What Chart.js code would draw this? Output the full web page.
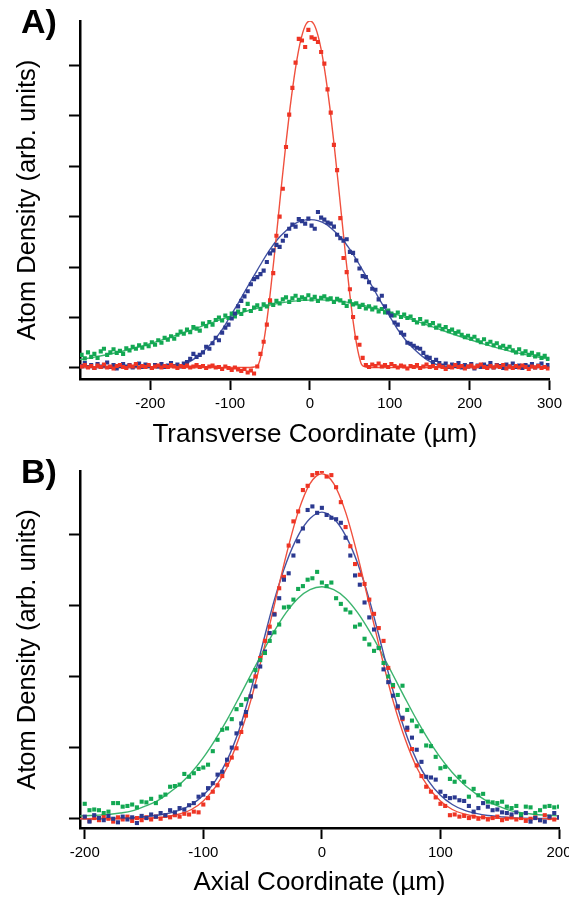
<!DOCTYPE html>
<html>
<head>
<meta charset="utf-8">
<script src="https://cdn.jsdelivr.net/npm/chart.js@4/dist/chart.umd.min.js"></script>
<style>
  html, body { margin: 0; padding: 0; background: #fff; }
  #wrap { position: relative; width: 569px; height: 898px; overflow: hidden; }
  canvas { position: absolute; left: 0; }
  #chartA { top: 0; }
  #chartB { top: 450px; }
</style>
</head>
<body>
<div id="wrap">
  <canvas id="chartA" width="569" height="450"></canvas>
  <canvas id="chartB" width="569" height="448"></canvas>
</div>
<script>
(function () {
  'use strict';

  var FONT = '"Liberation Sans", Arial, Helvetica, sans-serif';

  // ---- Panel A: transverse profiles ----
  var xA = [
    -286, -282, -278, -274, -270, -266, -262, -258, -254, -250,
    -246, -242, -238, -234, -230, -226, -222, -218, -214, -210,
    -206, -202, -198, -194, -190, -186, -182, -178, -174, -170,
    -166, -162, -158, -154, -150, -146, -142, -138, -134, -130,
    -126, -122, -118, -114, -110, -106, -102, -98, -94, -90,
    -86, -82, -78, -74, -70, -66, -62, -58, -54, -50,
    -46, -42, -38, -34, -30, -26, -22, -18, -14, -10,
    -6, -2, 2, 6, 10, 14, 18, 22, 26, 30,
    34, 38, 42, 46, 50, 54, 58, 62, 66, 70,
    74, 78, 82, 86, 90, 94, 98, 102, 106, 110,
    114, 118, 122, 126, 130, 134, 138, 142, 146, 150,
    154, 158, 162, 166, 170, 174, 178, 182, 186, 190,
    194, 198, 202, 206, 210, 214, 218, 222, 226, 230,
    234, 238, 242, 246, 250, 254, 258, 262, 266, 270,
    274, 278, 282, 286, 290, 294, 298
  ];
  var redA = [
    0.03, 0.06, 0.01, 0.04, 0.00, 0.05, 0.02, 0.07, 0.01, 0.03,
    -0.01, 0.04, 0.06, 0.02, 0.00, 0.05, 0.03, 0.08, 0.01, 0.04,
    0.02, 0.06, 0.00, 0.03, 0.05, 0.01, 0.04, 0.02, 0.06, 0.03,
    0.00, 0.04, 0.02, 0.05, 0.01, 0.03, 0.06, 0.02, 0.04, 0.00,
    0.03, 0.05, 0.01, 0.02, -0.02, 0.03, 0.00, -0.04, 0.01, -0.03,
    -0.06, -0.02, -0.09, -0.05, -0.11, 0.03, 0.28, 0.52, 0.86, 1.34,
    1.88, 2.62, 3.00, 3.55, 4.38, 5.02, 5.55, 6.05, 6.52, 6.49,
    6.36, 6.70, 6.55, 6.52, 6.46, 6.26, 6.03, 5.52, 5.06, 4.42,
    3.92, 2.97, 2.18, 1.90, 1.56, 1.01, 0.60, 0.46, 0.20, 0.06,
    0.02, 0.07, 0.04, 0.09, 0.03, 0.06, 0.02, 0.08, 0.04, 0.01,
    0.05, 0.03, -0.01, 0.04, 0.02, 0.06, 0.00, 0.03, 0.07, 0.02,
    0.04, 0.00, 0.05, 0.02, -0.02, 0.03, 0.01, 0.06, 0.02, 0.04,
    -0.01, 0.03, 0.05, 0.01, 0.04, 0.07, 0.02, 0.00, 0.04, 0.01,
    0.05, 0.02, 0.06, -0.01, 0.03, 0.00, 0.04, 0.01, 0.05, 0.02,
    -0.02, 0.03, 0.01, 0.04, 0.00, 0.02, -0.01
  ];
  var blueA = [
    0.04, 0.10, 0.02, 0.06, 0.00, 0.08, 0.03, 0.05, 0.11, 0.02,
    0.06, -0.01, 0.04, 0.08, 0.03, 0.06, 0.01, 0.05, 0.09, 0.02,
    0.07, 0.04, 0.00, 0.06, 0.03, 0.08, 0.02, 0.05, 0.10, 0.04,
    0.07, 0.03, 0.09, 0.12, 0.18, 0.28, 0.22, 0.26, 0.31, 0.42,
    0.38, 0.49, 0.60, 0.55, 0.70, 0.80, 0.86, 0.98, 1.08, 1.22,
    1.33, 1.42, 1.52, 1.66, 1.76, 1.80, 1.86, 1.93, 2.10, 2.27,
    2.33, 2.44, 2.40, 2.52, 2.62, 2.76, 2.84, 2.80, 2.95, 2.91,
    2.86, 2.96, 2.82, 2.76, 3.09, 2.98, 2.94, 2.88, 2.86, 2.80,
    2.64, 2.57, 2.52, 2.55, 2.30, 2.28, 2.13, 1.97, 1.82, 1.80,
    1.70, 1.57, 1.55, 1.36, 1.43, 1.22, 1.10, 1.04, 0.90, 0.86,
    0.70, 0.66, 0.50, 0.48, 0.44, 0.40, 0.38, 0.30, 0.22, 0.20,
    0.12, 0.16, 0.10, 0.05, 0.09, 0.02, 0.07, 0.04, 0.10, 0.01,
    0.06, 0.03, 0.08, -0.01, 0.05, 0.02, 0.07, 0.03, 0.10, 0.01,
    0.06, 0.04, 0.00, 0.07, 0.03, 0.09, 0.02, 0.05, 0.00, 0.06,
    0.03, 0.08, 0.01, 0.05, 0.09, 0.02, 0.06
  ];
  var greenA = [
    0.26, 0.19, 0.31, 0.22, 0.28, 0.20, 0.33, 0.38, 0.26, 0.31,
    0.37, 0.30, 0.34, 0.28, 0.39, 0.35, 0.42, 0.38, 0.45, 0.40,
    0.47, 0.43, 0.51, 0.46, 0.55, 0.50, 0.60, 0.56, 0.63, 0.58,
    0.66, 0.72, 0.68, 0.76, 0.71, 0.81, 0.78, 0.74, 0.88, 0.83,
    0.91, 0.86, 0.95, 1.00, 0.94, 1.04, 0.99, 1.08, 1.02, 1.12,
    1.07, 1.15, 1.27, 1.13, 1.20, 1.24, 1.17, 1.26, 1.22, 1.30,
    1.25, 1.33, 1.28, 1.36, 1.40, 1.31, 1.38, 1.43, 1.35, 1.40,
    1.37, 1.44, 1.36, 1.41, 1.33, 1.39, 1.42, 1.36, 1.38, 1.31,
    1.37, 1.34, 1.29, 1.23, 1.32, 1.26, 1.28, 1.21, 1.25, 1.18,
    1.22, 1.16, 1.20, 1.12, 1.17, 1.10, 1.14, 1.08, 1.04, 1.10,
    1.01, 1.06, 0.99, 1.02, 0.95, 0.90, 0.97, 0.88, 0.92, 0.85,
    0.89, 0.80, 0.84, 0.77, 0.81, 0.73, 0.76, 0.69, 0.72, 0.66,
    0.61, 0.64, 0.58, 0.62, 0.55, 0.51, 0.57, 0.48, 0.52, 0.45,
    0.49, 0.41, 0.44, 0.38, 0.42, 0.35, 0.31, 0.37, 0.29, 0.33,
    0.26, 0.30, 0.23, 0.27, 0.20, 0.24, 0.18
  ];

  // fitted curves, panel A
  var fitRedXA = [-288, -150, -100, -85, -75, -70, -65, -60, -55, -50, -45, -40, -35, -30, -25, -20, -15, -10, -5, 0,
    5, 10, 15, 20, 25, 30, 35, 40, 45, 50, 55, 60, 65, 70, 75, 85, 100, 150, 300];
  var fitRedA = [0.01, 0.01, 0.01, 0.01, 0.01, 0.02, 0.06, 0.34, 0.82, 1.45, 2.17, 2.94, 3.72, 4.46, 5.15, 5.74, 6.23, 6.59, 6.81, 6.88,
    6.81, 6.59, 6.23, 5.74, 5.15, 4.46, 3.72, 2.94, 2.17, 1.45, 0.82, 0.34, 0.06, 0.02, 0.01, 0.01, 0.01, 0.01, 0.01];
  var fitBlueXA = [-288, -220, -190, -180, -170, -160, -150, -140, -130, -120, -110, -100, -90, -80, -70, -60, -50, -40, -30, -20, -10, 0,
    10, 20, 30, 40, 50, 60, 70, 80, 90, 100, 110, 120, 130, 140, 150, 160, 170, 180, 190, 220, 300];
  var fitBlueA = [0.01, 0.01, 0.01, 0.015, 0.03, 0.06, 0.13, 0.24, 0.38, 0.55, 0.76, 1.02, 1.28, 1.56, 1.83, 2.10, 2.35, 2.56, 2.72, 2.85, 2.92, 2.94,
    2.92, 2.85, 2.72, 2.56, 2.35, 2.10, 1.83, 1.56, 1.28, 1.02, 0.76, 0.55, 0.38, 0.24, 0.13, 0.06, 0.03, 0.015, 0.01, 0.01, 0.01];
  var fitGreenXA = [-288, -270, -250, -230, -210, -190, -170, -150, -130, -110, -90, -70, -50, -30, -10,
    10, 30, 50, 70, 90, 110, 130, 150, 170, 190, 210, 230, 250, 270, 290, 300];
  var fitGreenA = [0.168, 0.215, 0.277, 0.351, 0.436, 0.531, 0.636, 0.746, 0.858, 0.970, 1.074, 1.168, 1.246, 1.304, 1.340,
    1.350, 1.335, 1.295, 1.232, 1.150, 1.054, 0.947, 0.836, 0.723, 0.614, 0.512, 0.418, 0.335, 0.264, 0.204, 0.178];

  var xTicksA = [-200, -100, 0, 100, 200, 300];
  var yTicksA = [0, 1, 2, 3, 4, 5, 6];

  // ---- Panel B: axial profiles ----
  var xB = [
    -200, -196, -192, -188, -184, -180, -176, -172, -168, -164,
    -160, -156, -152, -148, -144, -140, -136, -132, -128, -124,
    -120, -116, -112, -108, -104, -100, -96, -92, -88, -84,
    -80, -76, -72, -68, -64, -60, -56, -52, -48, -44,
    -40, -36, -32, -28, -24, -20, -16, -12, -8, -4,
    0, 4, 8, 12, 16, 20, 24, 28, 32, 36,
    40, 44, 48, 52, 56, 60, 64, 68, 72, 76,
    80, 84, 88, 92, 96, 100, 104, 108, 112, 116,
    120, 124, 128, 132, 136, 140, 144, 148, 152, 156,
    160, 164, 168, 172, 176, 180, 184, 188, 192, 196,
    200
  ];
  var redB = [
    0.02, -0.03, 0.01, -0.02, 0.03, 0.00, -0.04, 0.02, -0.01, 0.03,
    -0.03, 0.01, -0.02, 0.02, -0.01, 0.03, 0.00, 0.04, 0.02, 0.05,
    0.03, 0.07, 0.06, 0.10, 0.09, 0.20, 0.29, 0.38, 0.47, 0.60,
    0.76, 0.86, 0.99, 1.22, 1.45, 1.72, 2.00, 2.26, 2.50, 2.70,
    2.88, 3.24, 3.40, 3.84, 4.18, 4.32, 4.62, 4.68, 4.83, 4.86,
    4.89, 4.81, 4.83, 4.66, 4.45, 4.10, 3.83, 3.58, 3.43, 3.30,
    3.08, 2.88, 2.68, 2.50, 2.12, 1.86, 1.56, 1.40, 1.25, 0.98,
    0.75, 0.60, 0.45, 0.38, 0.30, 0.21, 0.18, 0.05, 0.06, 0.03,
    0.04, 0.01, 0.03, 0.00, 0.02, -0.01, 0.01, 0.03, -0.02, 0.00,
    0.02, -0.01, 0.01, -0.03, 0.00, 0.02, -0.02, 0.05, 0.01, -0.01,
    0.02
  ];
  var blueB = [
    0.03, -0.04, 0.05, 0.01, -0.02, 0.04, 0.00, -0.05, 0.03, -0.01,
    0.02, -0.06, 0.04, 0.01, 0.06, 0.03, 0.08, 0.05, 0.12, 0.09,
    0.15, 0.13, 0.19, 0.22, 0.31, 0.34, 0.43, 0.50, 0.62, 0.66,
    0.83, 1.00, 1.20, 1.34, 1.50, 1.72, 1.86, 2.14, 2.35, 2.61,
    2.87, 3.10, 3.36, 3.45, 3.70, 3.90, 4.08, 4.34, 4.39, 4.30,
    4.37, 4.27, 4.23, 4.21, 4.16, 3.95, 3.70, 3.42, 3.29, 3.04,
    2.83, 2.66, 2.40, 2.10, 1.92, 1.73, 1.58, 1.42, 1.28, 1.14,
    0.97, 0.80, 0.59, 0.58, 0.55, 0.38, 0.32, 0.29, 0.30, 0.26,
    0.25, 0.18, 0.10, 0.15, 0.22, 0.17, 0.12, 0.13, 0.09, 0.08,
    0.06, 0.09, 0.05, 0.08, -0.04, 0.01, -0.02, -0.04, 0.03, 0.08,
    0.02
  ];
  var greenB = [
    0.21, 0.12, 0.13, 0.12, 0.08, 0.10, 0.22, 0.22, 0.17, 0.18,
    0.20, 0.16, 0.24, 0.23, 0.28, 0.22, 0.31, 0.34, 0.45, 0.46,
    0.48, 0.63, 0.59, 0.64, 0.70, 0.72, 0.76, 0.95, 1.11, 1.25,
    1.27, 1.40, 1.54, 1.60, 1.68, 1.94, 2.09, 2.23, 2.33, 2.50,
    2.62, 2.73, 2.97, 2.98, 3.08, 3.23, 3.27, 3.36, 3.38, 3.47,
    3.32, 3.27, 3.32, 3.10, 3.02, 2.94, 2.90, 2.70, 2.73, 2.53,
    2.45, 2.36, 2.40, 2.19, 2.00, 1.88, 1.74, 1.87, 1.53, 1.38,
    1.30, 1.23, 1.03, 1.02, 0.87, 0.71, 0.73, 0.56, 0.52, 0.59,
    0.52, 0.31, 0.42, 0.33, 0.35, 0.24, 0.23, 0.22, 0.24, 0.17,
    0.15, 0.18, 0.06, 0.17, 0.16, 0.08, 0.12, 0.17, 0.18, 0.16,
    0.17
  ];

  // fitted curves, panel B
  var fitXB = [-204, -190, -180, -170, -160, -150, -140, -130, -120, -110, -100, -90, -80, -70, -60, -50, -40, -30, -20, -10, 0,
    10, 20, 30, 40, 50, 60, 70, 80, 90, 100, 110, 120, 130, 140, 150, 160, 170, 180, 190, 200];
  var fitRedB = [0, 0, 0, 0.001, 0.002, 0.006, 0.014, 0.032, 0.067, 0.13, 0.25, 0.44, 0.72, 1.13, 1.66, 2.31, 3.01, 3.71, 4.31, 4.71, 4.85,
    4.71, 4.31, 3.71, 3.01, 2.31, 1.66, 1.13, 0.72, 0.44, 0.25, 0.13, 0.067, 0.032, 0.014, 0.006, 0.002, 0.001, 0, 0, 0];
  var fitBlueB = [0, 0.003, 0.005, 0.008, 0.015, 0.03, 0.045, 0.075, 0.12, 0.20, 0.33, 0.53, 0.82, 1.24, 1.80, 2.45, 3.08, 3.60, 3.98, 4.22, 4.31,
    4.22, 3.98, 3.60, 3.08, 2.45, 1.80, 1.24, 0.82, 0.53, 0.33, 0.20, 0.12, 0.075, 0.045, 0.03, 0.015, 0.008, 0.005, 0.003, 0];
  var fitGreenB = [0.04, 0.05, 0.06, 0.08, 0.11, 0.17, 0.24, 0.35, 0.48, 0.65, 0.86, 1.11, 1.39, 1.70, 2.02, 2.34, 2.64, 2.90, 3.10, 3.22, 3.26,
    3.22, 3.10, 2.90, 2.64, 2.34, 2.02, 1.70, 1.39, 1.11, 0.86, 0.65, 0.48, 0.35, 0.24, 0.17, 0.11, 0.08, 0.06, 0.05, 0.04];

  var xTicksB = [-200, -100, 0, 100, 200];
  var yTicksB = [0, 1, 2, 3, 4];

  var RED = '#ee3424', BLUE = '#2b3990', GREEN = '#13a853';
  var RED_LINE = '#f0503e', BLUE_LINE = '#4252a2', GREEN_LINE = '#3cb46e';

  function pts(xs, ys) {
    return xs.map(function (x, i) { return { x: x, y: ys[i] }; });
  }

  function dots(xs, ys, color, order) {
    return {
      type: 'scatter',
      data: pts(xs, ys),
      backgroundColor: color,
      borderWidth: 0,
      pointStyle: 'rect',
      pointRadius: 2.9,
      pointHoverRadius: 2.9,
      order: order
    };
  }

  function fit(xs, ys, color) {
    return {
      type: 'line',
      data: pts(xs, ys),
      borderColor: color,
      borderWidth: 1.4,
      pointRadius: 0,
      fill: false,
      cubicInterpolationMode: 'monotone',
      order: 10
    };
  }

  function tagPlugin(text) {
    return {
      id: 'panelTag',
      afterDraw: function (chart) {
        var c = chart.ctx;
        c.save();
        c.font = 'bold 34px ' + FONT;
        c.fillStyle = '#000';
        c.textBaseline = 'alphabetic';
        c.textAlign = 'left';
        c.fillText(text, 21, 33);
        c.restore();
      }
    };
  }

  function axisLines() {
    return {
      grid: { display: true, drawOnChartArea: false, drawTicks: true, tickLength: 11, tickWidth: 2, tickColor: '#000', color: '#000' },
      border: { display: true, color: '#000', width: 2.5 }
    };
  }

  function makePanel(id, tag, datasets, ax) {
    var xl = axisLines();
    var yl = axisLines();
    new Chart(document.getElementById(id), {
      type: 'scatter',
      data: { datasets: datasets },
      options: {
        responsive: false,
        animation: false,
        events: [],
        layout: { padding: { left: 0, right: ax.padRight, top: 21, bottom: 0 } },
        plugins: { legend: { display: false }, tooltip: { enabled: false } },
        scales: {
          x: {
            type: 'linear',
            min: ax.xMin,
            max: ax.xMax,
            grid: xl.grid,
            border: xl.border,
            afterBuildTicks: function (s) {
              s.ticks = ax.xTicks.map(function (v) { return { value: v }; });
            },
            afterFit: function (s) {
              s.height = ax.xHeight;
              s.paddingLeft = 0;
              s.paddingRight = 0;
            },
            ticks: {
              color: '#000',
              font: { family: FONT, size: 15 },
              padding: 5,
              maxRotation: 0,
              autoSkip: false,
              callback: function (v) { return String(v); }
            },
            title: {
              display: true,
              text: ax.xTitle,
              color: '#000',
              font: { family: FONT, size: 26, lineHeight: 1 },
              padding: { top: 0, bottom: ax.xTitlePad }
            }
          },
          y: {
            type: 'linear',
            min: ax.yMin,
            max: ax.yMax,
            grid: yl.grid,
            border: yl.border,
            afterBuildTicks: function (s) {
              s.ticks = ax.yTicks.map(function (v) { return { value: v }; });
            },
            afterFit: function (s) {
              s.width = 80;
              s.paddingTop = 0;
              s.paddingBottom = 0;
            },
            ticks: { display: false },
            title: {
              display: true,
              text: 'Atom Density (arb. units)',
              color: '#000',
              font: { family: FONT, size: 25.5, lineHeight: 1 },
              padding: { top: 15, bottom: 0 }
            }
          }
        }
      },
      plugins: [tagPlugin(tag)]
    });
  }

  makePanel('chartA', 'A)', [
    fit(fitRedXA, fitRedA, RED_LINE),
    fit(fitBlueXA, fitBlueA, BLUE_LINE),
    fit(fitGreenXA, fitGreenA, GREEN_LINE),
    dots(xA, greenA, GREEN, 2),
    dots(xA, blueA, BLUE, 1),
    dots(xA, redA, RED, 0)
  ], {
    xMin: -288, xMax: 300, yMin: -0.218, yMax: 6.875,
    xTicks: xTicksA, yTicks: yTicksA,
    xHeight: 71, padRight: 19.5, xTitlePad: 2.5,
    xTitle: 'Transverse Coordinate (\u00b5m)'
  });

  makePanel('chartB', 'B)', [
    fit(fitXB, fitRedB, RED_LINE),
    fit(fitXB, fitBlueB, BLUE_LINE),
    fit(fitXB, fitGreenB, GREEN_LINE),
    dots(xB, redB, RED, 2),
    dots(xB, blueB, BLUE, 1),
    dots(xB, greenB, GREEN, 0)
  ], {
    xMin: -204, xMax: 200, yMin: -0.13, yMax: 4.888,
    xTicks: xTicksB, yTicks: yTicksB,
    xHeight: 70, padRight: 10, xTitlePad: 1.8,
    xTitle: 'Axial Coordinate (\u00b5m)'
  });
})();
</script>
</body>
</html>
